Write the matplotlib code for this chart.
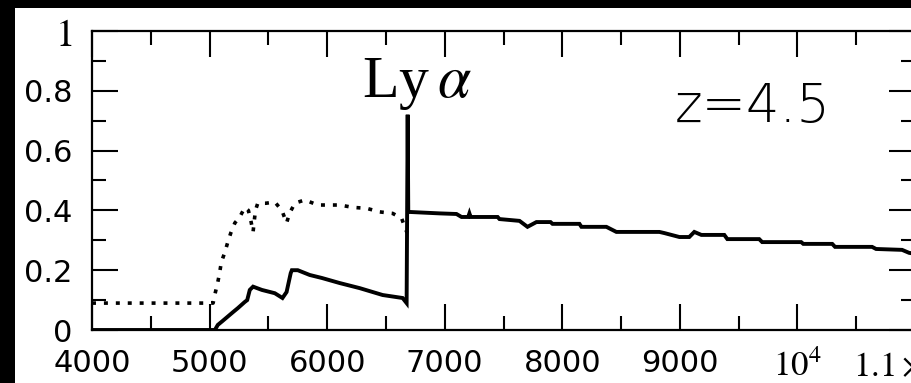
import matplotlib
matplotlib.use("Agg")
import matplotlib.pyplot as plt
from matplotlib.patches import Rectangle
from matplotlib.ticker import FixedLocator, MultipleLocator

plt.rcParams["mathtext.fontset"] = "stix"

# Observed spectrum (with IGM absorption): wavelength [A], flux
obs_wave = [4000, 5045, 5070, 5110, 5155, 5200, 5240, 5300, 5320, 5342, 5370,
            5445, 5555, 5620, 5655, 5690, 5700, 5750, 5852, 5955, 6107, 6277,
            6472, 6642, 6676, 6685, 6690, 6957, 7100, 7143, 7200, 7210, 7220,
            7450, 7466, 7636, 7704, 7780, 7900, 7917, 8146, 8163, 8375, 8460,
            8826, 8870, 8996, 9080, 9123, 9183, 9378, 9404, 9675, 9700, 10032,
            10050, 10296, 10320, 10635, 10669, 10890, 10950, 11000]
obs_flux = [0.0, 0.0, 0.017, 0.03, 0.045, 0.06, 0.073, 0.094, 0.10, 0.134, 0.145,
            0.134, 0.123, 0.107, 0.127, 0.19, 0.20, 0.20, 0.184, 0.174, 0.157, 0.14,
            0.117, 0.107, 0.09, 0.72, 0.395, 0.39, 0.388, 0.378, 0.378, 0.39, 0.378,
            0.378, 0.371, 0.365, 0.345, 0.361, 0.361, 0.355, 0.355, 0.345, 0.345, 0.328,
            0.328, 0.324, 0.311, 0.311, 0.328, 0.318, 0.318, 0.304, 0.304, 0.294, 0.294,
            0.288, 0.288, 0.278, 0.278, 0.271, 0.268, 0.258, 0.255]

# Intrinsic spectrum blueward of Ly-alpha
int_wave = [4000, 5030, 5050, 5070, 5085, 5100, 5130, 5155, 5180, 5215, 5257,
            5300, 5330, 5350, 5370, 5390, 5410, 5480, 5555, 5615, 5655, 5680,
            5725, 5810, 5920, 6107, 6220, 6335, 6447, 6557, 6633, 6660, 6680]
int_flux = [0.09, 0.09, 0.127, 0.16, 0.19, 0.227, 0.26, 0.294, 0.324, 0.358, 0.378,
            0.41, 0.40, 0.368, 0.328, 0.40, 0.424, 0.424, 0.428, 0.40, 0.358, 0.39,
            0.424, 0.435, 0.418, 0.418, 0.41, 0.407, 0.395, 0.39, 0.374, 0.345, 0.325]

x_ticks = [4000, 5000, 6000, 7000, 8000, 9000, 10000, 11000]
x_labels = ["4000", "5000", "6000", "7000", "8000", "9000", r"$10^4$", r"$1.1\times10^4$"]
y_ticks = [0, 0.2, 0.4, 0.6, 0.8, 1.0]
y_labels = ["0", "0.2", "0.4", "0.6", "0.8", r"$1$"]

W, H = 912, 383
fig = plt.figure(figsize=(W / 100, H / 100), dpi=100)
fig.patch.set_facecolor("black")
fig.patches.append(Rectangle((15 / W, 0), 1, (H - 8) / H, transform=fig.transFigure,
                             facecolor="white", edgecolor="none", zorder=-10))

ax = fig.add_axes([92 / W, (H - 330) / H, (915 - 92) / W, 299 / H])
ax.set_facecolor("white")

ax.plot(int_wave, int_flux, color="black", lw=2.6, linestyle=(0, (1.1, 2.2)),
        solid_capstyle="butt")
ax.plot(obs_wave, obs_flux, color="black", lw=2.8, solid_joinstyle="miter")

ax.set_xlim(4000, 11000)
ax.set_ylim(0, 1)

ax.xaxis.set_major_locator(FixedLocator(x_ticks))
ax.xaxis.set_minor_locator(MultipleLocator(500))
ax.yaxis.set_major_locator(FixedLocator(y_ticks))
ax.yaxis.set_minor_locator(MultipleLocator(0.1))
ax.set_xticklabels(x_labels)
ax.set_yticklabels(y_labels)

ax.tick_params(which="both", direction="in", top=True, right=True, width=1.5,
               colors="black")
ax.tick_params(which="major", length=19)
ax.tick_params(which="minor", length=10)
ax.tick_params(axis="x", which="major", pad=14, labelsize=22)
ax.tick_params(axis="y", which="major", pad=14, labelsize=22)
for lbl in ax.get_xticklabels():
    lbl.set_family("DejaVu Sans")
    if "$" in lbl.get_text():
        lbl.set_fontsize(25)
for lbl in ax.get_yticklabels():
    if "$" in lbl.get_text():
        lbl.set_fontsize(28)

for sp in ax.spines.values():
    sp.set_linewidth(1.6)
    sp.set_color("black")

ax.text(6294, 0.779, r"Ly$\:\alpha$", fontsize=43, family="Liberation Serif",
        ha="left", va="baseline")
ax.text(8953, 0.696, "z=4.5", fontsize=38, family="DejaVu Sans", fontweight="light",
        ha="left", va="baseline")

fig.savefig("out.png", dpi=100, facecolor=fig.get_facecolor())
